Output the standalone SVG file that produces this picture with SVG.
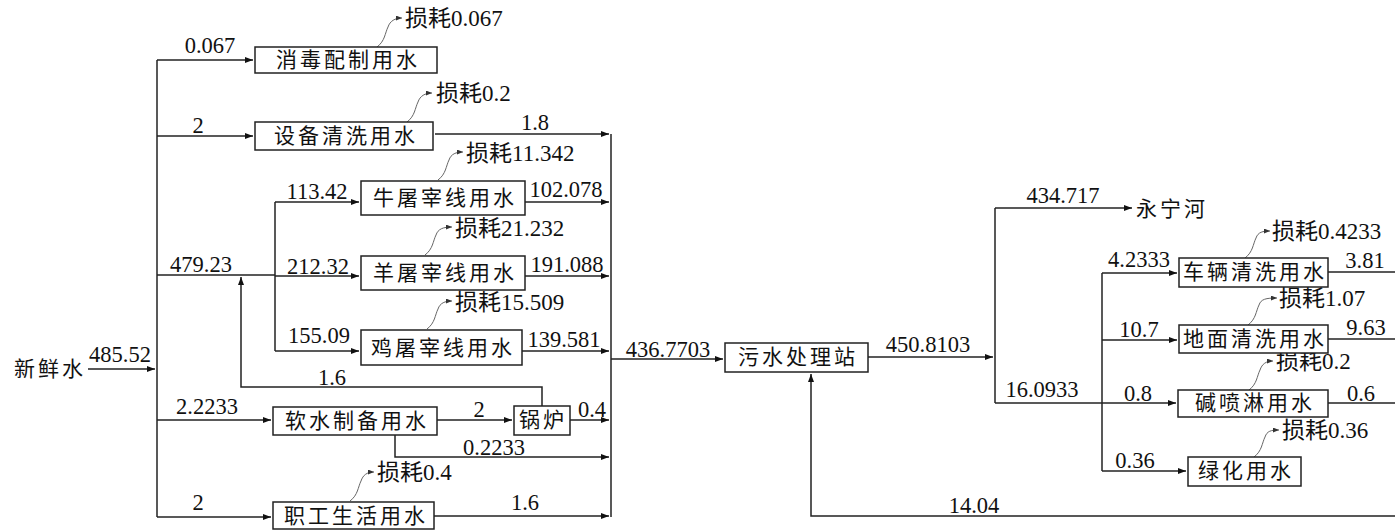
<svg xmlns="http://www.w3.org/2000/svg" width="1395" height="532" viewBox="0 0 1395 532">
<defs>
<style>
.bx{fill:#fff;stroke:#222;stroke-width:1.5}
.ln{fill:none;stroke:#222;stroke-width:1.5}
.ls{fill:none;stroke:#666;stroke-width:1}
text{font-family:"Liberation Serif","Noto Sans CJK SC",serif;font-size:22.5px;fill:#111}
.n{text-anchor:middle}
.cn{font-size:21px;letter-spacing:3px;text-anchor:middle;dominant-baseline:central}
.lo{font-size:23px}
</style>
<marker id="a" markerWidth="8" markerHeight="6" refX="8" refY="3" orient="auto" markerUnits="userSpaceOnUse"><path d="M0,0 L8,3 L0,6 Z" fill="#111"/></marker>
<marker id="s" markerWidth="6" markerHeight="5" refX="6" refY="2.5" orient="auto" markerUnits="userSpaceOnUse"><path d="M0,0 L6,2.5 L0,5 Z" fill="#333"/></marker>
</defs>
<rect width="1395" height="532" fill="#fff"/>

<g id="connectors">
<path class="ln" d="M88,369 H155" marker-end="url(#a)"/>
<path class="ln" d="M157,60 V517"/>
<path class="ln" d="M157,60 H253" marker-end="url(#a)"/>
<path class="ln" d="M157,136 H253" marker-end="url(#a)"/>
<path class="ln" d="M157,275 H275"/>
<path class="ln" d="M157,420 H271" marker-end="url(#a)"/>
<path class="ln" d="M157,517 H271" marker-end="url(#a)"/>
<path class="ln" d="M275,202 V351"/>
<path class="ln" d="M275,202 H359" marker-end="url(#a)"/>
<path class="ln" d="M275,276 H359" marker-end="url(#a)"/>
<path class="ln" d="M275,351 H359" marker-end="url(#a)"/>
<path class="ln" d="M611,134 V517"/>
<path class="ln" d="M435,134 H609" marker-end="url(#a)"/>
<path class="ln" d="M525,202 H609" marker-end="url(#a)"/>
<path class="ln" d="M525,276 H609" marker-end="url(#a)"/>
<path class="ln" d="M522,351 H609" marker-end="url(#a)"/>
<path class="ln" d="M570,420 H609" marker-end="url(#a)"/>
<path class="ln" d="M395,434 V457 H609" marker-end="url(#a)"/>
<path class="ln" d="M434,516 H609" marker-end="url(#a)"/>
<path class="ln" d="M611,359 H723" marker-end="url(#a)"/>
<path class="ln" d="M437,420 H512" marker-end="url(#a)"/>
<path class="ln" d="M542,406 V387 H241 V277" marker-end="url(#a)"/>
<path class="ln" d="M868,357 H993" marker-end="url(#a)"/>
<path class="ln" d="M995,208 V403"/>
<path class="ln" d="M995,208 H1132" marker-end="url(#a)"/>
<path class="ln" d="M995,403 H1102"/>
<path class="ln" d="M1102,273 V471"/>
<path class="ln" d="M1102,273 H1177" marker-end="url(#a)"/>
<path class="ln" d="M1102,340 H1177" marker-end="url(#a)"/>
<path class="ln" d="M1102,403 H1176" marker-end="url(#a)"/>
<path class="ln" d="M1102,471 H1186" marker-end="url(#a)"/>
<path class="ln" d="M1328,272 H1395"/>
<path class="ln" d="M1328,339 H1395"/>
<path class="ln" d="M1328,403 H1395"/>
<path class="ln" d="M1395,516 H811 V374" marker-end="url(#a)"/>
<path class="ls" d="M377,47 C385,41 385,33 388,27 C390,21 395,18 402,18" marker-end="url(#s)"/>
<path class="ls" d="M407,122 C415,116 415,108 418,102 C420,96 425,93 432,93" marker-end="url(#s)"/>
<path class="ls" d="M438,180 C446,174 446,166 449,160 C451,154 456,152 463,152" marker-end="url(#s)"/>
<path class="ls" d="M425,255 C433,249 433,241 436,235 C438,229 443,227 452,227" marker-end="url(#s)"/>
<path class="ls" d="M427,329 C435,323 435,315 438,309 C440,303 445,301 452,301" marker-end="url(#s)"/>
<path class="ls" d="M350,501 C358,495 358,487 361,481 C363,475 367,472 374,472" marker-end="url(#s)"/>
<path class="ls" d="M1245,258 C1253,252 1253,244 1256,238 C1258,232 1263,231 1270,231" marker-end="url(#s)"/>
<path class="ls" d="M1248,325 C1256,319 1256,311 1259,305 C1261,299 1266,298 1277,298" marker-end="url(#s)"/>
<path class="ls" d="M1249,390 C1257,384 1257,376 1260,370 C1262,364 1266,361 1273,361" marker-end="url(#s)"/>
<path class="ls" d="M1254,457 C1262,451 1262,443 1265,437 C1267,431 1271,430 1279,430" marker-end="url(#s)"/>
</g>

<g id="flow-labels">
<text class="n" x="120" y="362">485.52</text>
<text class="n" x="210" y="53">0.067</text>
<text class="n" x="198" y="133">2</text>
<text class="n" x="201" y="272">479.23</text>
<text class="n" x="317" y="199">113.42</text>
<text class="n" x="318" y="274">212.32</text>
<text class="n" x="319" y="343">155.09</text>
<text class="n" x="332" y="385">1.6</text>
<text class="n" x="207" y="414">2.2233</text>
<text class="n" x="198" y="510">2</text>
<text class="n" x="566" y="197">102.078</text>
<text class="n" x="567" y="272">191.088</text>
<text class="n" x="564" y="347">139.581</text>
<text class="n" x="535" y="130">1.8</text>
<text class="n" x="479" y="417">2</text>
<text class="n" x="592" y="417">0.4</text>
<text class="n" x="494" y="455">0.2233</text>
<text class="n" x="525" y="510">1.6</text>
<text class="n" x="668" y="357">436.7703</text>
<text class="n" x="928" y="352">450.8103</text>
<text class="n" x="1063" y="203">434.717</text>
<text class="n" x="1042" y="397">16.0933</text>
<text class="n" x="1139" y="267">4.2333</text>
<text class="n" x="1139" y="337">10.7</text>
<text class="n" x="1365" y="268">3.81</text>
<text class="n" x="1366" y="335">9.63</text>
<text class="n" x="1138" y="401">0.8</text>
<text class="n" x="1361" y="401">0.6</text>
<text class="n" x="1135" y="468">0.36</text>
<text class="n" x="974" y="513">14.04</text>
</g>

<g id="loss-labels">
<text class="lo" x="405" y="26">损耗0.067</text>
<text class="lo" x="436" y="101">损耗0.2</text>
<text class="lo" x="466" y="161">损耗11.342</text>
<text class="lo" x="455" y="236">损耗21.232</text>
<text class="lo" x="455" y="310">损耗15.509</text>
<text class="lo" x="377" y="480">损耗0.4</text>
<text class="lo" x="1272" y="239">损耗0.4233</text>
<text class="lo" x="1279" y="306">损耗1.07</text>
<text class="lo" x="1276" y="369">损耗0.2</text>
<text class="lo" x="1282" y="438">损耗0.36</text>
</g>

<g id="n-fresh"><text class="cn" x="50" y="369">新鲜水</text></g>
<g id="n-river"><text class="cn" x="1172" y="209">永宁河</text></g>
<g id="n-disinfect"><rect class="bx" x="255" y="47" width="182" height="26"/><text class="cn" x="348" y="60">消毒配制用水</text></g>
<g id="n-equip"><rect class="bx" x="255" y="122" width="178" height="28"/><text class="cn" x="346" y="136">设备清洗用水</text></g>
<g id="n-cattle"><rect class="bx" x="361" y="181" width="164" height="34"/><text class="cn" x="445" y="198">牛屠宰线用水</text></g>
<g id="n-sheep"><rect class="bx" x="361" y="256" width="164" height="34"/><text class="cn" x="445" y="273">羊屠宰线用水</text></g>
<g id="n-chicken"><rect class="bx" x="361" y="330" width="161" height="35"/><text class="cn" x="443" y="348">鸡屠宰线用水</text></g>
<g id="n-soft"><rect class="bx" x="273" y="407" width="164" height="28"/><text class="cn" x="357" y="421">软水制备用水</text></g>
<g id="n-boiler"><rect class="bx" x="514" y="406" width="56" height="29"/><text class="cn" x="543" y="420">锅炉</text></g>
<g id="n-staff"><rect class="bx" x="273" y="502" width="161" height="27"/><text class="cn" x="356" y="516">职工生活用水</text></g>
<g id="n-sewage"><rect class="bx" x="725" y="343" width="143" height="29"/><text class="cn" x="798" y="357">污水处理站</text></g>
<g id="n-vehicle"><rect class="bx" x="1179" y="258" width="149" height="29"/><text class="cn" x="1255" y="272">车辆清洗用水</text></g>
<g id="n-floor"><rect class="bx" x="1179" y="325" width="149" height="28"/><text class="cn" x="1255" y="339">地面清洗用水</text></g>
<g id="n-alkali"><rect class="bx" x="1178" y="390" width="150" height="27"/><text class="cn" x="1255" y="403">碱喷淋用水</text></g>
<g id="n-green"><rect class="bx" x="1188" y="457" width="113" height="29"/><text class="cn" x="1246" y="471">绿化用水</text></g>
</svg>
